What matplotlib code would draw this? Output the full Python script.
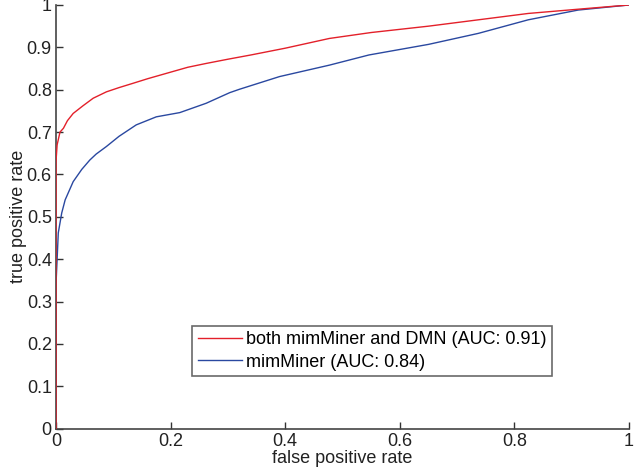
import matplotlib
matplotlib.use('Agg')
import matplotlib.pyplot as plt

plt.rcParams['font.family'] = ['Liberation Sans', 'DejaVu Sans']

# ROC curve points
fpr_both = [0, 0, 0, 0.002, 0.007, 0.013, 0.02, 0.03, 0.047, 0.065, 0.088, 0.11,
            0.134, 0.16, 0.204, 0.23, 0.262, 0.3, 0.34, 0.4, 0.477, 0.55, 0.65,
            0.737, 0.824, 0.911, 1.0]
tpr_both = [0, 0.34, 0.63, 0.67, 0.70, 0.709, 0.727, 0.744, 0.762, 0.78, 0.795, 0.805,
            0.815, 0.826, 0.843, 0.853, 0.862, 0.872, 0.882, 0.898, 0.921, 0.935, 0.950,
            0.965, 0.980, 0.990, 1.0]

fpr_mim = [0, 0, 0.002, 0.004, 0.01, 0.016, 0.03, 0.045, 0.059, 0.07, 0.088, 0.11,
           0.14, 0.175, 0.216, 0.262, 0.303, 0.32, 0.39, 0.477, 0.546, 0.65, 0.737,
           0.824, 0.911, 1.0]
tpr_mim = [0, 0.34, 0.40, 0.462, 0.509, 0.54, 0.583, 0.612, 0.634, 0.648, 0.666, 0.69,
           0.717, 0.736, 0.746, 0.768, 0.793, 0.801, 0.831, 0.858, 0.882, 0.907, 0.933,
           0.965, 0.988, 1.0]

labels = ['both mimMiner and DMN (AUC: 0.91)', 'mimMiner (AUC: 0.84)']

fig = plt.figure(figsize=(6.34, 4.74), dpi=100)
ax = fig.add_axes([0.0883, 0.0956, 0.904, 0.8939])

ax.plot(fpr_mim, tpr_mim, color='#2a48a0', linewidth=1.0, label=labels[1], zorder=2)
ax.plot(fpr_both, tpr_both, color='#e3202a', linewidth=1.0, label=labels[0], zorder=3)

ax.set_xlim(0, 1)
ax.set_ylim(0, 1)
ax.set_xticks([0, 0.2, 0.4, 0.6, 0.8, 1])
ax.set_xticklabels(['0', '0.2', '0.4', '0.6', '0.8', '1'])
ax.set_yticks([i / 10 for i in range(11)])
ax.set_yticklabels(['0'] + ['0.%d' % i for i in range(1, 10)] + ['1'])
ax.tick_params(direction='in', length=5, width=1, colors='#333333', labelsize=13,
               labelcolor='#222222', pad=3)
for s in ['top', 'right']:
    ax.spines[s].set_visible(False)
for s in ['left', 'bottom']:
    ax.spines[s].set_color('#444444')
    ax.spines[s].set_linewidth(1.2)

ax.set_xlabel('false positive rate', fontsize=13, color='#222222', labelpad=0)
ax.set_ylabel('true positive rate', fontsize=13, color='#222222', labelpad=0)

h, l = ax.get_legend_handles_labels()
leg = ax.legend(h[::-1], l[::-1], loc='lower left', bbox_to_anchor=(0.238, 0.124),
                borderaxespad=0, fontsize=13, frameon=True, fancybox=False,
                handlelength=2.45, handletextpad=0.2, borderpad=0.3, labelspacing=0.3)
leg.get_frame().set_edgecolor('#444444')
leg.get_frame().set_linewidth(1.2)

fig.savefig('out.png', dpi=100)
